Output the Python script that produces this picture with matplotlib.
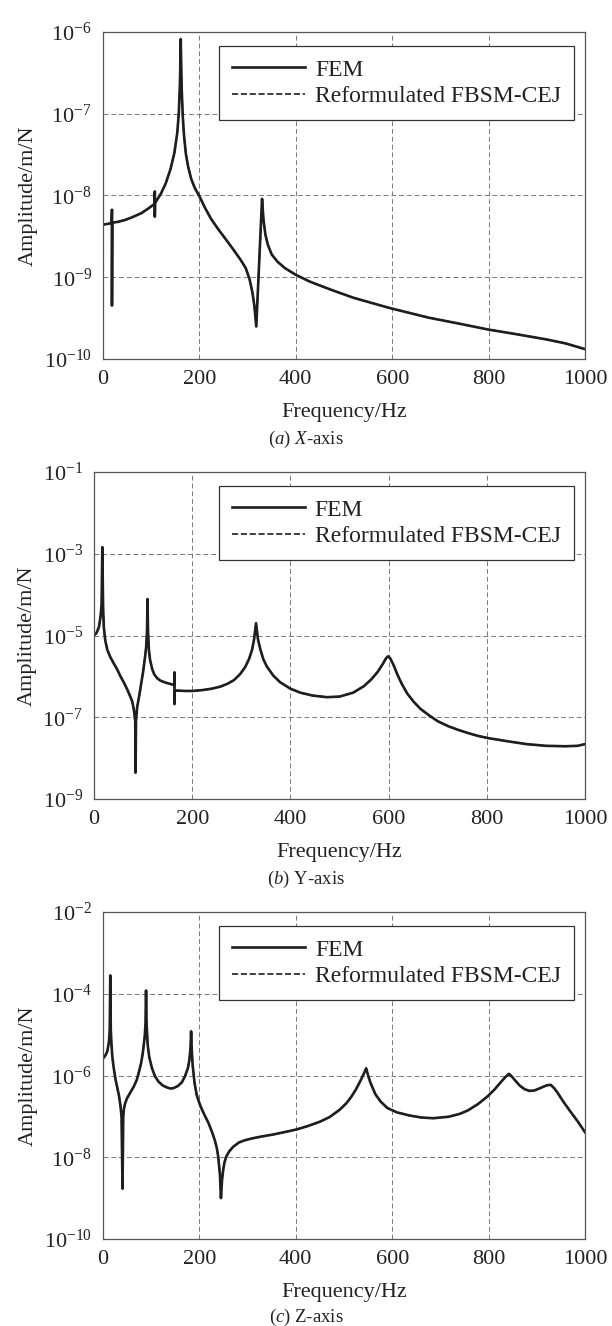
"""
plot.py

Frequency response curves (FEM vs reformulated FBSM-CEJ), three axes.
Writes out.png
"""

import matplotlib
matplotlib.use("Agg")
import matplotlib.pyplot as plt
from matplotlib.ticker import NullLocator, FixedLocator

# ============================================================
# DATA
# ============================================================

# (a) X-axis
freq_x = [0, 10, 18, 18.6, 18.6, 19.2, 30, 45, 60, 80, 95, 107, 107.5, 107.5,
          108, 120, 130, 140, 148, 154, 157.2, 159.5, 160.5, 161.3, 162.2,
          163.3, 165.5, 168, 172, 177, 183, 190, 200, 212, 224, 240, 255, 270,
          285, 296, 304, 310, 314, 318, 330, 333, 337, 342, 350, 362, 377, 400,
          430, 474, 520, 595, 676, 740, 798, 860, 919, 960, 1000]
amp_x = [4.4e-9, 4.5e-9, 4.6e-9, 6.7e-9, 4.5e-10, 4.65e-9, 4.75e-9, 5.0e-9,
         5.4e-9, 6.1e-9, 7.0e-9, 7.9e-9, 1.12e-8, 5.5e-9,
         8.1e-9, 1.05e-8, 1.4e-8, 2.1e-8, 3.3e-8, 5.8e-8, 1.0e-7, 2.2e-7,
         4.0e-7, 8.2e-7, 4.0e-7,
         2.0e-7, 9.3e-8, 5.5e-8, 3.2e-8, 2.2e-8, 1.6e-8, 1.25e-8, 9.8e-9,
         7.0e-9, 5.2e-9, 3.8e-9, 2.9e-9, 2.2e-9,
         1.65e-9, 1.3e-9, 9.5e-10, 6.5e-10, 4.5e-10, 2.5e-10, 9.1e-9, 5.0e-9,
         3.3e-9, 2.5e-9, 1.9e-9, 1.55e-9, 1.3e-9, 1.07e-9,
         8.8e-10, 7.0e-10, 5.6e-10, 4.2e-10, 3.2e-10, 2.7e-10, 2.3e-10,
         2.0e-10, 1.74e-10, 1.55e-10, 1.32e-10]

# (b) Y-axis
freq_y = [0, 5, 10, 13.5, 15.5, 17, 18.5, 20, 23, 27, 33, 40, 47, 54, 61, 68,
          74, 78, 81.3, 84, 84.7, 85.5, 88, 92, 96, 100, 104, 106.4, 108, 109,
          110, 111.8, 114, 118.6, 123, 128.7, 135, 142, 150, 158, 163.5, 164,
          164, 164.5, 169, 185, 200, 220, 240, 257, 272, 285, 298, 308, 316,
          322, 326, 330, 334, 339, 345, 352, 365, 379, 400, 420, 445, 474, 500,
          528, 550, 565, 578, 588, 595, 599, 603, 610, 618, 627, 638, 651, 665,
          683, 700, 722, 742, 762, 782, 802, 841, 881, 921, 960, 985, 1000]
amp_y = [1.0e-5, 1.15e-5, 1.6e-5, 3.0e-5, 6.0e-5, 1.45e-3, 5.0e-5, 1.6e-5,
         7.5e-6, 4.5e-6, 3.0e-6, 2.1e-6, 1.5e-6, 1.0e-6, 7.0e-7, 4.7e-7,
         3.2e-7, 2.4e-7, 1.5e-7, 8.0e-8, 4.4e-9, 8.0e-8, 1.8e-7, 3.3e-7,
         6.5e-7, 1.3e-6, 3.0e-6, 5.5e-6, 1.3e-5, 7.8e-5,
         1.3e-5, 4.5e-6, 2.6e-6, 1.5e-6, 1.1e-6, 9.0e-7, 7.9e-7, 7.3e-7,
         6.8e-7, 6.4e-7, 6.2e-7, 1.26e-6,
         2.1e-7, 4.4e-7, 4.5e-7, 4.4e-7, 4.4e-7, 4.6e-7, 5.0e-7, 5.6e-7,
         6.6e-7, 8.1e-7, 1.15e-6, 1.7e-6, 2.7e-6,
         4.5e-6, 8.0e-6, 2.0e-5, 8.0e-6, 4.5e-6, 2.6e-6, 1.74e-6, 1.05e-6,
         7.2e-7, 5.0e-7, 4.0e-7, 3.4e-7, 3.1e-7, 3.2e-7,
         4.0e-7, 5.8e-7, 8.5e-7, 1.3e-6, 2.0e-6, 2.8e-6, 3.1e-6, 2.8e-6,
         1.9e-6, 1.1e-6, 6.5e-7, 3.8e-7, 2.4e-7, 1.6e-7,
         1.1e-7, 8.0e-8, 6.0e-8, 4.9e-8, 4.1e-8, 3.5e-8, 3.1e-8, 2.6e-8,
         2.2e-8, 2.0e-8, 1.95e-8, 2.0e-8, 2.2e-8]

# (c) Z-axis
freq_z = [0, 5, 9, 12.4, 14, 15.1, 16.2, 17.5, 19.2, 22, 26, 30, 33, 36, 38.5,
          40.5, 42, 43.3, 46, 50, 57, 64, 70, 74, 79, 82.5, 86.6, 88.3, 89.3,
          90.3, 92.8, 96, 101.7, 108, 115.5, 124, 132.6, 140, 146, 155, 163.6,
          170, 176, 179, 181.5, 182.8, 184, 186, 190, 194.5, 200, 205, 212,
          218.6, 226, 232, 236, 239, 242.6, 244.7, 247, 249.5, 252, 256, 262,
          270, 282, 294, 310, 328, 353, 380, 402, 425, 450, 470, 491, 505, 515,
          525, 535, 541, 546, 550, 555, 565, 576, 590, 610, 636, 660, 685, 717,
          740, 757, 778, 798, 812, 825, 835, 842, 848, 855, 865, 875, 885, 895,
          905, 915, 922, 929, 936, 943, 955, 968, 985, 1000]
amp_z = [2.6e-6, 3.1e-6, 3.9e-6, 6.8e-6, 1.3e-5, 2.8e-4, 1.3e-5, 6.0e-6,
         3.0e-6, 1.6e-6, 8.0e-7, 4.8e-7, 3.3e-7, 1.9e-7, 1.0e-7,
         1.7e-9, 1.0e-7, 1.5e-7, 2.1e-7, 2.8e-7, 3.9e-7, 5.4e-7, 7.8e-7,
         1.15e-6, 2.0e-6, 3.5e-6, 9.0e-6, 2.0e-5, 1.2e-4,
         2.0e-5, 5.5e-6, 2.8e-6, 1.5e-6, 9.5e-7, 7.0e-7, 5.7e-7, 5.1e-7,
         4.8e-7, 4.9e-7, 5.5e-7, 6.8e-7,
         9.5e-7, 1.5e-6, 2.3e-6, 4.5e-6, 1.2e-5, 4.5e-6, 1.8e-6, 6.5e-7,
         3.3e-7, 2.1e-7, 1.5e-7, 1.0e-7,
         7.0e-8, 4.2e-8, 2.6e-8, 1.7e-8, 1.05e-8, 3.8e-9, 1.0e-9, 2.8e-9,
         5.0e-9, 7.5e-9, 1.05e-8, 1.4e-8,
         1.8e-8, 2.3e-8, 2.6e-8, 2.9e-8, 3.2e-8, 3.6e-8, 4.2e-8, 4.8e-8,
         5.8e-8, 7.4e-8, 9.6e-8, 1.45e-7, 2.1e-7, 3.0e-7,
         4.6e-7, 7.8e-7, 1.1e-6, 1.5e-6, 1.0e-6, 6.6e-7, 3.5e-7, 2.3e-7,
         1.6e-7, 1.25e-7, 1.05e-7, 9.4e-8, 9.0e-8, 9.8e-8,
         1.15e-7, 1.4e-7, 2.0e-7, 3.1e-7, 4.5e-7, 6.8e-7, 9.2e-7, 1.1e-6,
         9.5e-7, 7.6e-7, 5.6e-7, 4.6e-7, 4.2e-7, 4.3e-7,
         4.8e-7, 5.4e-7, 5.8e-7, 5.9e-7, 4.9e-7, 3.8e-7, 2.3e-7, 1.4e-7,
         7.5e-8, 4.1e-8]

series = [freq_x, freq_y, freq_z]
amplitudes = [amp_x, amp_y, amp_z]
ylims = [(1e-10, 1e-6), (1e-9, 1e-1), (1e-10, 1e-2)]
yticks = [[1e-10, 1e-9, 1e-8, 1e-7, 1e-6],
          [1e-9, 1e-7, 1e-5, 1e-3, 1e-1],
          [1e-10, 1e-8, 1e-6, 1e-4, 1e-2]]
captions = [r"$\it{(a)}$ $\it{X}$-axis",
            r"$\it{(b)}$ Y-axis",
            r"$\it{(c)}$ Z-axis"]
xticks = [0, 200, 400, 600, 800, 1000]

# ============================================================
# STYLE
# ============================================================

plt.rcParams["font.family"] = ["Liberation Serif", "DejaVu Serif"]
plt.rcParams["mathtext.fontset"] = "custom"
plt.rcParams["mathtext.rm"] = "Liberation Serif"
plt.rcParams["mathtext.it"] = "Liberation Serif:italic"
plt.rcParams["mathtext.default"] = "regular"

W, H = 612, 1326
fig = plt.figure(figsize=(W / 100, H / 100), dpi=100)

# axes boxes in pixels: left, right, top, bottom
boxes = [(103, 585, 32, 359), (94, 585, 472, 799), (103, 585, 912, 1239)]
caption_y = [439, 879, 1317]

line_col = "#1e1e1e"

for i in range(3):
    l, r, t, b = boxes[i]
    ax = fig.add_axes([l / W, 1 - b / H, (r - l) / W, (b - t) / H])

    ax.semilogy(series[i], amplitudes[i], "-", color=line_col, lw=1.9,
                label="FEM")
    ax.semilogy(series[i], amplitudes[i], "--", color=line_col, lw=1.2,
                label="Reformulated FBSM-CEJ")

    ax.set_xlim(0, 1000)
    ax.set_ylim(*ylims[i])
    ax.set_xticks(xticks)
    ax.yaxis.set_major_locator(FixedLocator(yticks[i]))
    ax.yaxis.set_minor_locator(NullLocator())

    ax.grid(True, which="major", color="#7a7a7a", linestyle=(0, (5, 3)),
            linewidth=0.7)
    for s in ax.spines.values():
        s.set_color("#555555")
        s.set_linewidth(0.9)
    ax.tick_params(direction="in", length=0, labelsize=16, pad=8,
                   colors="#222222")

    ax.set_xlabel("Frequency/Hz", fontsize=16, labelpad=10, color="#222222")
    ax.set_ylabel("Amplitude/m/N", fontsize=16, labelpad=4, color="#222222")

    leg = ax.legend(loc="upper right", bbox_to_anchor=(0.977, 0.957),
                    borderaxespad=0, fontsize=17, handlelength=3.1,
                    handletextpad=0.42, labelspacing=0.2, borderpad=0.55,
                    fancybox=False, framealpha=1, edgecolor="#333333")
    leg.get_frame().set_linewidth(0.9)
    for txt in leg.get_texts():
        txt.set_color("#222222")

    fig.text(0.5, 1 - caption_y[i] / H, captions[i], ha="center",
             va="center", fontsize=13.5, color="#222222")

fig.savefig("out.png", dpi=100)
